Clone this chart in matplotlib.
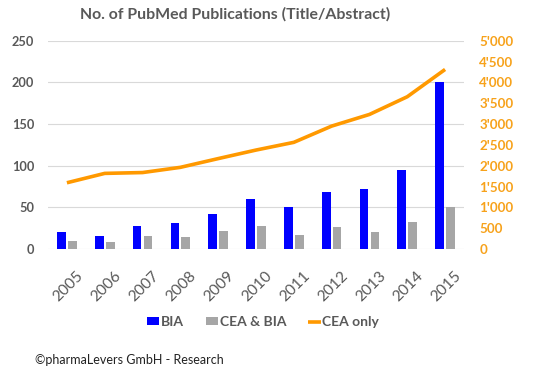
import matplotlib
matplotlib.use("Agg")
import matplotlib.pyplot as plt
import matplotlib.transforms as mtransforms
import numpy as np
from matplotlib.ticker import FuncFormatter

years = ["2005", "2006", "2007", "2008", "2009", "2010", "2011", "2012", "2013", "2014", "2015"]
bia = [21, 16, 28, 31, 42, 60, 51, 69, 72, 95, 200]
cea_bia = [10, 9, 16, 15, 22, 28, 17, 27, 20, 32, 50]
cea_only = [1590, 1815, 1835, 1960, 2170, 2375, 2560, 2950, 3230, 3655, 4310]

plt.rcParams['font.family'] = ['Lato', 'DejaVu Sans']
gray_txt = '#595959'
orange = '#FF9900'

fig = plt.figure(figsize=(5.34, 3.69), dpi=100)
ax = fig.add_axes([48/534, 1-249/369, (464-48)/534, (249-40.7)/369])
x = np.arange(len(years))
w = 0.23
b1 = ax.bar(x - 0.145, bia, width=w, color='#0000FF', label='BIA', zorder=3)
b2 = ax.bar(x + 0.145, cea_bia, width=w, color='#A6A6A6', label='CEA & BIA', zorder=3)
ax.set_ylim(0, 250)
ax.set_xlim(-0.5, len(years) - 0.5)
ax.set_yticks(range(0, 251, 50))
ax.yaxis.grid(True, color='#D9D9D9', lw=0.8, zorder=0)
ax.set_axisbelow(True)
for s in ax.spines.values():
    s.set_visible(False)
ax.tick_params(axis='both', length=0)
ax.tick_params(axis='y', labelsize=9.2, labelcolor=gray_txt, pad=10)
ax.set_xticks(x)
ax.set_xticklabels(years, rotation=45, ha='right', rotation_mode='anchor', fontsize=11.2, color=gray_txt)
ax.tick_params(axis='x', pad=14)
offset = mtransforms.ScaledTranslation(9/100, 0, fig.dpi_scale_trans)
for lab in ax.get_xticklabels():
    lab.set_transform(lab.get_transform() + offset)
for lab in ax.get_yticklabels():
    lab.set_fontweight('bold')

ax2 = ax.twinx()
l1, = ax2.plot(x, cea_only, color=orange, lw=2.6, label='CEA only', zorder=4, solid_capstyle='butt')
ax2.set_ylim(0, 5000)
ax2.set_yticks(range(0, 5001, 500))
ax2.yaxis.set_major_formatter(FuncFormatter(lambda v, p: f"{int(v):,}".replace(',', "'")))
for s in ax2.spines.values():
    s.set_visible(False)
ax2.tick_params(axis='y', length=0, labelsize=9.6, labelcolor='#F7A21B', pad=11)
for lab in ax2.get_yticklabels():
    lab.set_fontweight('bold')

fig.text(235/534, 1-14/369, 'No. of PubMed Publications (Title/Abstract)', ha='center', va='center',
         fontsize=11.4, fontweight='bold', color=gray_txt)

fig.legend([b1, b2, l1], ['BIA', 'CEA & BIA', 'CEA only'], loc='center', bbox_to_anchor=(263/534, 1-322/369),
           ncol=3, frameon=False, handlelength=0.9, handleheight=0.5, handletextpad=0.1, columnspacing=1.6,
           labelcolor=gray_txt, prop={'weight': 'bold', 'size': 10})

fig.text(35/534, 1-360/369, '©pharmaLevers GmbH - Research', ha='left', va='center', fontsize=9, color='#222222')

fig.savefig('out.png', dpi=100)
